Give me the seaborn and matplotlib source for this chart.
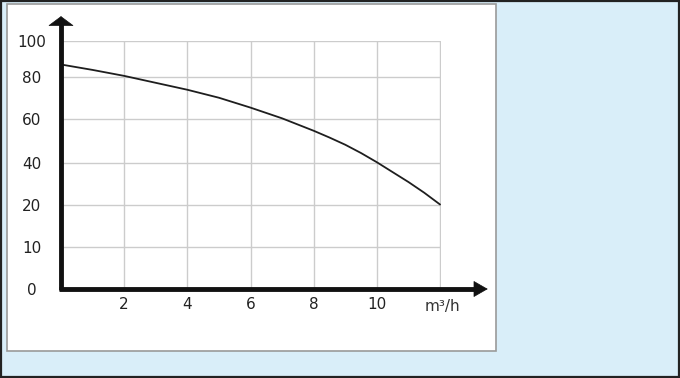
import numpy as np
import matplotlib
matplotlib.use("Agg")
import matplotlib.pyplot as plt
import seaborn as sns
from matplotlib.patches import Rectangle

# ---- data ----
flow = [0, 1, 2, 3, 4, 5, 6, 7, 8, 8.5, 9, 9.5, 10, 10.5, 11, 11.5, 12]   # m³/h
head = [87, 84, 80.7, 77.3, 74, 70.2, 65.5, 60.4, 54.7, 51.6, 48.3, 44.5,
        40.3, 35.6, 30.9, 25.8, 20.2]
y_ticks = [0, 10, 20, 40, 60, 80, 100]
y_tick_labels = ["0", "10", "20", "40", "60", "80", "100"]
x_ticks = [2, 4, 6, 8, 10, 12]
x_tick_labels = ["2", "4", "6", "8", "10", ""]
x_unit = "m³/h"

# non-uniform y axis of the original: equal spacing between ticks
y_break_pos = [0, 1, 2, 3, 4.04, 5.04, 5.9]

def fwd(v):
    return np.interp(v, y_ticks, y_break_pos)

def inv(p):
    return np.interp(p, y_break_pos, y_ticks)

sns.set_style("white")
plt.rcParams["font.family"] = ["DejaVu Sans"]

fig = plt.figure(figsize=(6.8, 3.78), dpi=100)
fig.patch.set_facecolor("#d9eef9")

# white panel
fig.patches.append(Rectangle((7 / 680, 1 - 351 / 378), (496 - 7) / 680, (351 - 4) / 378,
                             transform=fig.transFigure, facecolor="white",
                             edgecolor="#9a9a9a", lw=1.2, zorder=-5))
# outer dark frame
fig.patches.append(Rectangle((0.001, 0.002), 0.997, 0.995, transform=fig.transFigure,
                             fill=False, edgecolor="#222222", lw=1.6, zorder=-4))

ax = fig.add_axes([61 / 680, 1 - 289 / 378, 380 / 680, 248 / 378])
ax.set_zorder(3)
ax.set_facecolor("none")
ax.set_yscale("function", functions=(fwd, inv))

sns.lineplot(x=flow, y=head, ax=ax, color="#1e1e1e", lw=1.3, zorder=3)

ax.set_xlim(0, 12.03)
ax.set_ylim(0, 100.4)
ax.set_xticks(x_ticks)
ax.set_xticklabels(x_tick_labels)
ax.set_yticks(y_ticks)
ax.set_yticklabels(y_tick_labels)
ax.minorticks_off()
ax.grid(True, color="#cccccc", lw=1.0, zorder=0)
for s in ax.spines.values():
    s.set_visible(False)

ax.tick_params(axis="x", length=0, pad=6, labelsize=11, labelcolor="#222222")
ax.tick_params(axis="y", length=0, pad=21, labelsize=11, labelcolor="#222222")
plt.setp(ax.get_yticklabels(), ha="center")
ax.set_xlabel("")
ax.set_ylabel("")

# axis lines with arrows
ax.plot([0, 0], [-0.006, 1.07], transform=ax.transAxes, clip_on=False,
        color="#111111", lw=3.5, solid_capstyle="butt", zorder=6)
ax.plot([-0.006, 1.095], [0, 0], transform=ax.transAxes, clip_on=False,
        color="#111111", lw=3.5, solid_capstyle="butt", zorder=6)
ax.annotate("", xy=(0, 1.10), xytext=(0, 1.062), xycoords="axes fraction",
            arrowprops=dict(arrowstyle="-|>,head_length=0.32,head_width=0.43",
                            mutation_scale=20, lw=0.5, color="#111111",
                            shrinkA=0, shrinkB=0), zorder=7)
ax.annotate("", xy=(1.123, 0), xytext=(1.088, 0), xycoords="axes fraction",
            arrowprops=dict(arrowstyle="-|>,head_length=0.47,head_width=0.27",
                            mutation_scale=20, lw=0.5, color="#111111",
                            shrinkA=0, shrinkB=0), zorder=7)

ax.text(0.958, -0.069, x_unit, transform=ax.transAxes, ha="left", va="center",
        fontsize=11, color="#333333")

fig.savefig("out.png", dpi=100, facecolor=fig.get_facecolor())
